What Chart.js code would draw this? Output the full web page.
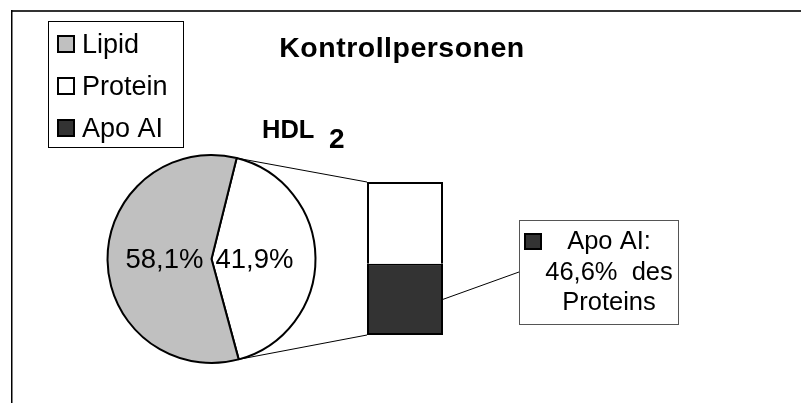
<!DOCTYPE html>
<html><head><meta charset="utf-8">
<script src="https://cdn.jsdelivr.net/npm/chart.js@4"></script>
<style>
html,body{margin:0;padding:0;background:#fff;}
#wrap{position:relative;width:801px;height:403px;overflow:hidden;background:#fff;}
#wrap canvas{position:absolute;left:0;top:0;}
</style></head><body>
<div id="wrap"><canvas id="pie" width="801" height="403"></canvas><canvas id="bar" width="801" height="403"></canvas></div>
<script>
const chartTitle = 'Kontrollpersonen';
const subTitle = 'HDL';
const subTitleIndex = '2';
const pieLabels = ['Protein', 'Lipid'];
const pieValues = [41.9, 58.1];
const pieColors = ['#ffffff', '#c0c0c0'];
const barLabels = ['Apo AI', 'übriges Protein'];
const barValues = [46.6, 53.4];
const barColors = ['#333333', '#ffffff'];
const legendLabels = ['Lipid', 'Protein', 'Apo AI'];
const legendColors = ['#c0c0c0', '#ffffff', '#333333'];

const FONT = "'Liberation Sans', Arial, Helvetica, sans-serif";
const fmt = v => v.toFixed(1).replace('.', ',') + '%';

const piePlugin = {
  id: 'pieExtras',
  afterDraw(chart) {
    const ctx = chart.ctx;
    ctx.save();
    // frame
    ctx.fillStyle = '#333';
    ctx.fillRect(11, 10, 790, 2);
    ctx.fillStyle = '#000';
    ctx.fillRect(11, 10, 1.5, 393);
    // legend box
    ctx.strokeStyle = '#000';
    ctx.lineWidth = 1;
    ctx.strokeRect(48.5, 21.5, 135, 126);
    legendLabels.forEach((lab, i) => {
      const top = 35 + 42 * i;
      ctx.fillStyle = legendColors[i];
      ctx.fillRect(57, top, 18, 18);
      ctx.lineWidth = 2;
      ctx.strokeStyle = '#000';
      ctx.strokeRect(58, top + 1, 16, 16);
      ctx.fillStyle = '#000';
      ctx.font = '27px ' + FONT;
      ctx.textAlign = 'left';
      ctx.textBaseline = 'alphabetic';
      ctx.fillText(lab, 82, 53 + 42 * i);
    });
    // title
    ctx.fillStyle = '#000';
    ctx.font = 'bold 28.5px ' + FONT;
    ctx.textAlign = 'center';
    try { ctx.letterSpacing = '0.5px'; } catch (e) {}
    ctx.fillText(chartTitle, 402, 57);
    try { ctx.letterSpacing = '0px'; } catch (e) {}
    // HDL 2
    ctx.textAlign = 'left';
    ctx.font = 'bold 25.5px ' + FONT;
    ctx.fillText(subTitle, 262, 138);
    ctx.font = 'bold 28px ' + FONT;
    ctx.fillText(subTitleIndex, 329, 148);
    // pie labels
    const meta = chart.getDatasetMeta(0);
    ctx.font = '27.5px ' + FONT;
    meta.data.forEach((arc, i) => {
      const p = arc.getProps(['x', 'y', 'startAngle', 'endAngle'], true);
      const mid = (p.startAngle + p.endAngle) / 2;
      const right = Math.cos(mid) > 0;
      ctx.textAlign = right ? 'left' : 'right';
      ctx.fillText(fmt(pieValues[i]), right ? p.x + 4 : p.x - 8, p.y + 9);
    });
    ctx.restore();
  }
};

const pieChart = new Chart(document.getElementById('pie'), {
  type: 'pie',
  data: {
    labels: pieLabels,
    datasets: [{
      data: pieValues,
      backgroundColor: pieColors,
      borderColor: '#000',
      borderWidth: 2,
      rotation: 14,
      radius: 104
    }]
  },
  options: {
    responsive: false,
    animation: false,
    events: [],
    layout: { padding: { left: 106, right: 484, top: 154, bottom: 39 } },
    plugins: { legend: { display: false }, tooltip: { enabled: false } }
  },
  plugins: [piePlugin]
});

const barPlugin = {
  id: 'barExtras',
  afterDraw(chart) {
    const ctx = chart.ctx;
    const arc = pieChart.getDatasetMeta(0).data[0].getProps(['x', 'y', 'startAngle', 'endAngle', 'outerRadius'], true);
    const dark = chart.getDatasetMeta(0).data[0].getProps(['x', 'y', 'base', 'width'], true);
    const light = chart.getDatasetMeta(1).data[0].getProps(['x', 'y', 'base', 'width'], true);
    const left = dark.x - dark.width / 2;
    const right = dark.x + dark.width / 2;
    const top = Math.min(light.y, light.base);
    const bottom = Math.max(dark.y, dark.base);
    const r = arc.outerRadius;
    ctx.save();
    ctx.strokeStyle = '#000';
    ctx.lineWidth = 1;
    ctx.beginPath();
    ctx.moveTo(arc.x + r * Math.cos(arc.startAngle), arc.y + r * Math.sin(arc.startAngle));
    ctx.lineTo(left, top);
    ctx.moveTo(arc.x + r * Math.cos(arc.endAngle), arc.y + r * Math.sin(arc.endAngle));
    ctx.lineTo(left, bottom);
    // leader to callout
    const boxX = 519, boxY = 220, boxW = 159, boxH = 104;
    ctx.moveTo(right, (dark.y + dark.base) / 2);
    ctx.lineTo(boxX, boxY + boxH / 2);
    ctx.stroke();
    // callout box
    ctx.fillStyle = '#fff';
    ctx.fillRect(boxX, boxY, boxW, boxH);
    ctx.strokeStyle = '#555';
    ctx.strokeRect(boxX + 0.5, boxY + 0.5, boxW, boxH);
    ctx.fillStyle = barColors[0];
    ctx.fillRect(524, 233, 18, 17);
    ctx.strokeStyle = '#000';
    ctx.lineWidth = 2;
    ctx.strokeRect(525, 234, 16, 15);
    ctx.fillStyle = '#000';
    ctx.font = '25.5px ' + FONT;
    ctx.textAlign = 'center';
    const lines = [barLabels[0] + ':', fmt(barValues[0]) + '  des', 'Proteins'];
    const bases = [249, 280, 310];
    lines.forEach((t, i) => ctx.fillText(t, 609, bases[i]));
    ctx.restore();
  }
};

const barChart = new Chart(document.getElementById('bar'), {
  type: 'bar',
  data: {
    labels: ['Protein'],
    datasets: barValues.map((v, i) => ({
      label: barLabels[i],
      data: [v],
      backgroundColor: barColors[i],
      borderColor: '#000',
      borderWidth: 2,
      borderSkipped: i === 0 ? false : 'bottom',
      barPercentage: 1,
      categoryPercentage: 1,
      inflateAmount: 0
    }))
  },
  options: {
    responsive: false,
    animation: false,
    events: [],
    layout: { padding: { left: 367, right: 358, top: 182, bottom: 68 } },
    scales: {
      x: { display: false, stacked: true },
      y: { display: false, stacked: true, min: 0, max: 100 }
    },
    plugins: { legend: { display: false }, tooltip: { enabled: false } }
  },
  plugins: [barPlugin]
});
</script>
</body></html>
